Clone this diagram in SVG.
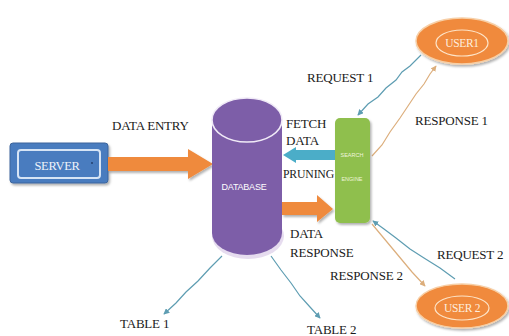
<svg xmlns="http://www.w3.org/2000/svg" width="509" height="336" viewBox="0 0 509 336">
<defs>
<style>
.lbl{font-family:"Liberation Serif","Times New Roman",serif;font-size:13px;fill:#1a1a1a;letter-spacing:-0.2px}
.req{fill:none;stroke:#5e9db2;stroke-width:1.2}
.resp{fill:none;stroke:#dcae7c;stroke-width:1.2}
.user{fill:#f08a3c;stroke:#f7cfa6;stroke-width:1.5}
.uin{fill:none;stroke:#fde4c8;stroke-width:1.2}
.utxt{font-family:"Liberation Serif","Times New Roman",serif;font-size:11.5px;fill:#fdeedd;text-anchor:middle;letter-spacing:-0.3px}
</style>
<marker id="ab" viewBox="0 0 8 8" refX="7" refY="4" markerWidth="6" markerHeight="6" orient="auto" markerUnits="userSpaceOnUse"><path d="M0,0 L8,4 L0,8 Z" fill="#5e9db2"/></marker>
<marker id="ao" viewBox="0 0 8 8" refX="7" refY="4" markerWidth="6" markerHeight="6" orient="auto" markerUnits="userSpaceOnUse"><path d="M0,0 L8,4 L0,8 Z" fill="#dcae7c"/></marker>
<filter id="sh" x="-10%" y="-10%" width="130%" height="140%"><feDropShadow dx="1.5" dy="2" stdDeviation="1.2" flood-color="#000" flood-opacity="0.3"/></filter>
</defs>
<rect width="509" height="336" fill="#ffffff"/>

<g id="connectors">
<path class="req" d="M421,55 L410,66 L402,72 L396,80 L386,88 L378,97 L368,104 L358,115" marker-end="url(#ab)"/>
<path class="resp" d="M372,156 L382,145 L390,132 L400,118 L408,106 L416,94 L424,84 L430,74 L436,66" marker-end="url(#ao)"/>
<path class="req" d="M455,279 L440,268 L424,258 L410,249 L396,238 L384,229 L373,221" marker-end="url(#ab)"/>
<path class="resp" d="M372,224 L382,236 L392,248 L402,260 L412,272 L425,286" marker-end="url(#ao)"/>
<path class="req" d="M222,256 L210,268 L198,281 L186,292 L176,303 L164,314" marker-end="url(#ab)"/>
<path class="req" d="M271,256 L281,270 L291,283 L300,296 L310,307 L320,318" marker-end="url(#ab)"/>
</g>

<g id="server">
<rect x="10" y="143" width="98" height="40" rx="3" fill="#4a7cbf" stroke="#3c659c" stroke-width="1" filter="url(#sh)"/>
<rect x="18" y="150" width="82" height="28" rx="3" fill="none" stroke="#d6e4f5" stroke-width="2"/>
<text x="57" y="170" font-family="Liberation Serif, serif" font-size="12.5" fill="#eef3fa" text-anchor="middle" letter-spacing="-0.3">SERVER</text>
<circle cx="92" cy="163" r="0.9" fill="#1f3a66"/>
</g>

<g id="data-entry-arrow">
<path d="M108,157 L188,157 L188,149 L213,164 L188,179 L188,171 L108,171 Z" fill="#ef8a3d" filter="url(#sh)"/>
<text class="lbl" x="112" y="130">DATA ENTRY</text>
</g>

<g id="database">
<ellipse cx="248" cy="236" rx="36" ry="23" fill="#e6dcef"/>
<path d="M212,120 L212,233 A35,22 0 0 0 282,233 L282,120 A35,22 0 0 0 212,120 Z" fill="#7d5ea8"/>
<ellipse cx="247" cy="120" rx="35" ry="22" fill="#7d5ea8" stroke="#f0eaf7" stroke-width="1.6"/>
<text x="244" y="190" font-family="Liberation Sans, Arial, sans-serif" font-size="9" fill="#ffffff" text-anchor="middle" letter-spacing="-0.2">DATABASE</text>
</g>

<g id="fetch-arrow">
<path d="M335,150 L296,150 L296,147 L283,155 L296,163 L296,160 L335,160 Z" fill="#4badc8"/>
<text class="lbl" x="286" y="128">FETCH</text>
<text class="lbl" x="286" y="145">DATA</text>
<text class="lbl" x="283" y="178" textLength="51" lengthAdjust="spacingAndGlyphs">PRUNING</text>
</g>

<g id="data-response-arrow">
<path d="M282,202 L317,202 L317,195 L333,209 L317,222 L317,215 L282,215 Z" fill="#ef8a3d" filter="url(#sh)"/>
<text class="lbl" x="290" y="238">DATA</text>
<text class="lbl" x="290" y="257">RESPONSE</text>
</g>

<g id="search-engine">
<rect x="335" y="118" width="35" height="105" rx="5" fill="#8fbf4d" filter="url(#sh)"/>
<text x="352" y="157" font-family="Liberation Sans, Arial, sans-serif" font-size="5.5" fill="#eef5dc" text-anchor="middle">SEARCH</text>
<text x="352" y="181" font-family="Liberation Sans, Arial, sans-serif" font-size="5.5" fill="#eef5dc" text-anchor="middle">ENGINE</text>
</g>

<g id="user1">
<ellipse class="user" cx="462" cy="41" rx="46" ry="23" filter="url(#sh)"/>
<ellipse class="uin" cx="462" cy="43" rx="26" ry="13"/>
<text class="utxt" x="462" y="47">USER1</text>
</g>

<g id="user2">
<ellipse class="user" cx="462" cy="306" rx="46" ry="22" filter="url(#sh)"/>
<ellipse class="uin" cx="462" cy="308" rx="27" ry="12"/>
<text class="utxt" x="462" y="312">USER 2</text>
</g>

<g id="labels">
<text class="lbl" x="307" y="82">REQUEST 1</text>
<text class="lbl" x="415" y="125">RESPONSE 1</text>
<text class="lbl" x="437" y="259">REQUEST 2</text>
<text class="lbl" x="330" y="280">RESPONSE 2</text>
<text class="lbl" x="120" y="328">TABLE 1</text>
<text class="lbl" x="307" y="334">TABLE 2</text>
</g>
</svg>
